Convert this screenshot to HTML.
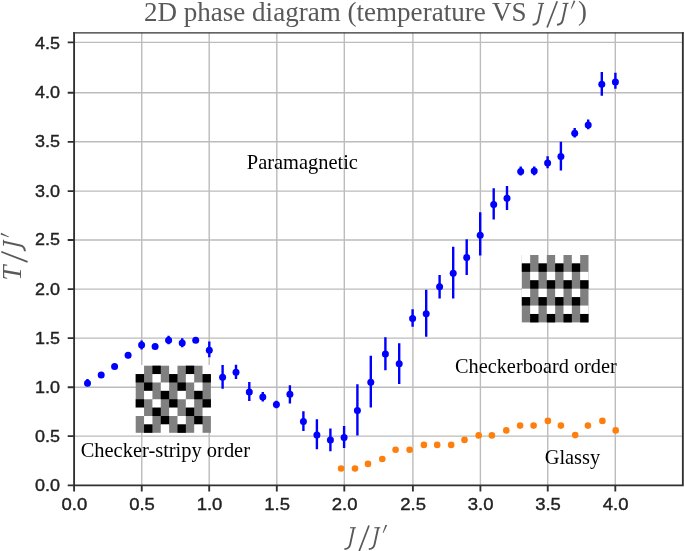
<!DOCTYPE html>
<html><head><meta charset="utf-8"><title>2D phase diagram</title>
<style>
html,body{margin:0;padding:0;background:#fff;}
body{width:685px;height:551px;overflow:hidden;font-family:"Liberation Sans",sans-serif;}
svg{display:block;}
.tk{font-family:"Liberation Sans",sans-serif;font-size:17.4px;fill:#222;stroke:#222;stroke-width:0.4px;}
.lb{font-family:"Liberation Serif",serif;font-size:20.2px;fill:#000;}
.tt{font-family:"Liberation Serif",serif;font-size:26.8px;fill:#595959;}
.it{font-style:italic;}
</style></head><body>
<svg width="685" height="551" viewBox="0 0 685 551">
<defs>
<filter id="gs" x="0" y="0" width="685" height="551" filterUnits="userSpaceOnUse" color-interpolation-filters="sRGB"><feColorMatrix type="saturate" values="0"/></filter>
<g id="mJ" fill="none" stroke="#595959" stroke-width="1.9"><path d="M5.9 0.5H11.8" stroke-width="1.1"/><path d="M9.7 0.3L6.0 17.4Q5.1 21.6 0.3 21.9"/></g>
<g id="mS"><path d="M0.5 -1.7L-9.6 24.6" fill="none" stroke="#595959" stroke-width="1.7"/></g>
<g id="mP"><path d="M17.0 -2.4L18.7 -1.9L14.9 5.8L14.2 5.6Z" fill="#595959"/></g>
</defs>
<rect width="685" height="551" fill="#fff"/>
<path d="M141.75 32.85 V485.4 M209.20 32.85 V485.4 M276.80 32.85 V485.4 M344.30 32.85 V485.4 M412.90 32.85 V485.4 M480.40 32.85 V485.4 M547.75 32.85 V485.4 M615.30 32.85 V485.4 M74.1 436.10 H682.85 M74.1 387.20 H682.85 M74.1 338.15 H682.85 M74.1 289.10 H682.85 M74.1 240.00 H682.85 M74.1 191.10 H682.85 M74.1 141.80 H682.85 M74.1 92.75 H682.85 M74.1 42.40 H682.85" stroke="#bcbcbc" stroke-width="1.4" fill="none"/>
<g><rect x="135.70" y="365.70" width="75.20" height="67.10" fill="#808080"/><rect x="135.00" y="365.00" width="9.06" height="9.09" fill="#ffffff"/><rect x="152.41" y="365.70" width="8.36" height="8.39" fill="#000000"/><rect x="169.12" y="365.00" width="8.36" height="9.09" fill="#ffffff"/><rect x="185.83" y="365.70" width="8.36" height="8.39" fill="#000000"/><rect x="202.54" y="365.00" width="9.06" height="9.09" fill="#ffffff"/><rect x="135.70" y="374.09" width="8.36" height="8.39" fill="#000000"/><rect x="152.41" y="374.09" width="8.36" height="8.39" fill="#ffffff"/><rect x="169.12" y="374.09" width="8.36" height="8.39" fill="#000000"/><rect x="185.83" y="374.09" width="8.36" height="8.39" fill="#ffffff"/><rect x="202.54" y="374.09" width="8.36" height="8.39" fill="#000000"/><rect x="144.06" y="382.48" width="8.36" height="8.39" fill="#000000"/><rect x="160.77" y="382.48" width="8.36" height="8.39" fill="#ffffff"/><rect x="177.48" y="382.48" width="8.36" height="8.39" fill="#000000"/><rect x="194.19" y="382.48" width="8.36" height="8.39" fill="#ffffff"/><rect x="144.06" y="390.86" width="8.36" height="8.39" fill="#ffffff"/><rect x="160.77" y="390.86" width="8.36" height="8.39" fill="#000000"/><rect x="177.48" y="390.86" width="8.36" height="8.39" fill="#ffffff"/><rect x="194.19" y="390.86" width="8.36" height="8.39" fill="#000000"/><rect x="135.70" y="399.25" width="8.36" height="8.39" fill="#000000"/><rect x="152.41" y="399.25" width="8.36" height="8.39" fill="#ffffff"/><rect x="169.12" y="399.25" width="8.36" height="8.39" fill="#000000"/><rect x="185.83" y="399.25" width="8.36" height="8.39" fill="#ffffff"/><rect x="202.54" y="399.25" width="8.36" height="8.39" fill="#000000"/><rect x="135.00" y="407.64" width="9.06" height="8.39" fill="#ffffff"/><rect x="152.41" y="407.64" width="8.36" height="8.39" fill="#000000"/><rect x="169.12" y="407.64" width="8.36" height="8.39" fill="#ffffff"/><rect x="185.83" y="407.64" width="8.36" height="8.39" fill="#000000"/><rect x="202.54" y="407.64" width="9.06" height="8.39" fill="#ffffff"/><rect x="144.06" y="416.02" width="8.36" height="8.39" fill="#ffffff"/><rect x="160.77" y="416.02" width="8.36" height="8.39" fill="#000000"/><rect x="177.48" y="416.02" width="8.36" height="8.39" fill="#ffffff"/><rect x="194.19" y="416.02" width="8.36" height="8.39" fill="#000000"/><rect x="144.06" y="424.41" width="8.36" height="8.39" fill="#000000"/><rect x="160.77" y="424.41" width="8.36" height="9.09" fill="#ffffff"/><rect x="177.48" y="424.41" width="8.36" height="8.39" fill="#000000"/><rect x="194.19" y="424.41" width="8.36" height="9.09" fill="#ffffff"/></g>
<g><rect x="521.80" y="255.00" width="66.70" height="67.40" fill="#808080"/><rect x="521.80" y="255.00" width="8.34" height="8.43" fill="#ffffff"/><rect x="538.47" y="255.00" width="8.34" height="8.43" fill="#ffffff"/><rect x="555.15" y="255.00" width="8.34" height="8.43" fill="#ffffff"/><rect x="571.83" y="255.00" width="8.34" height="8.43" fill="#ffffff"/><rect x="521.80" y="263.43" width="8.34" height="8.43" fill="#000000"/><rect x="538.47" y="263.43" width="8.34" height="8.43" fill="#000000"/><rect x="555.15" y="263.43" width="8.34" height="8.43" fill="#000000"/><rect x="571.83" y="263.43" width="8.34" height="8.43" fill="#000000"/><rect x="530.14" y="271.85" width="8.34" height="8.43" fill="#ffffff"/><rect x="546.81" y="271.85" width="8.34" height="8.43" fill="#ffffff"/><rect x="563.49" y="271.85" width="8.34" height="8.43" fill="#ffffff"/><rect x="580.16" y="271.85" width="8.34" height="8.43" fill="#ffffff"/><rect x="530.14" y="280.27" width="8.34" height="8.43" fill="#000000"/><rect x="546.81" y="280.27" width="8.34" height="8.43" fill="#000000"/><rect x="563.49" y="280.27" width="8.34" height="8.43" fill="#000000"/><rect x="580.16" y="280.27" width="8.34" height="8.43" fill="#000000"/><rect x="521.80" y="288.70" width="8.34" height="8.43" fill="#ffffff"/><rect x="538.47" y="288.70" width="8.34" height="8.43" fill="#ffffff"/><rect x="555.15" y="288.70" width="8.34" height="8.43" fill="#ffffff"/><rect x="571.83" y="288.70" width="8.34" height="8.43" fill="#ffffff"/><rect x="521.80" y="297.12" width="8.34" height="8.43" fill="#000000"/><rect x="538.47" y="297.12" width="8.34" height="8.43" fill="#000000"/><rect x="555.15" y="297.12" width="8.34" height="8.43" fill="#000000"/><rect x="571.83" y="297.12" width="8.34" height="8.43" fill="#000000"/><rect x="530.14" y="305.55" width="8.34" height="8.43" fill="#ffffff"/><rect x="546.81" y="305.55" width="8.34" height="8.43" fill="#ffffff"/><rect x="563.49" y="305.55" width="8.34" height="8.43" fill="#ffffff"/><rect x="580.16" y="305.55" width="8.34" height="8.43" fill="#ffffff"/><rect x="530.14" y="313.97" width="8.34" height="8.43" fill="#000000"/><rect x="546.81" y="313.97" width="8.34" height="8.43" fill="#000000"/><rect x="563.49" y="313.97" width="8.34" height="8.43" fill="#000000"/><rect x="580.16" y="313.97" width="8.34" height="8.43" fill="#000000"/></g>
<path d="M87.5 379.0 V386.3 M128.1 352.3 V358.3 M141.6 340.6 V349.6 M168.6 335.8 V344.3 M182.2 338.3 V347.3 M209.3 341.6 V357.3 M222.6 365.1 V388.8 M236.0 364.8 V379.1 M249.3 382.1 V401.1 M262.8 392.1 V401.6 M276.4 400.8 V408.3 M289.9 385.3 V403.6 M303.4 411.2 V430.9 M316.9 419.2 V449.2 M330.4 428.4 V451.2 M344.1 426.1 V448.0 M357.4 384.3 V435.4 M370.8 355.8 V407.4 M385.4 337.3 V370.3 M399.2 343.3 V384.1 M412.6 309.2 V326.7 M426.2 289.7 V336.8 M439.6 274.9 V298.4 M453.2 246.8 V298.4 M466.7 239.3 V274.9 M480.2 212.3 V255.4 M493.7 188.2 V219.6 M507.0 185.9 V209.9 M520.7 166.5 V175.5 M534.2 166.5 V175.3 M547.6 156.3 V168.3 M560.9 141.7 V170.5 M574.7 127.9 V137.4 M588.2 119.6 V129.2 M601.8 71.9 V95.7 M615.4 72.7 V88.7" stroke="#0000ff" stroke-width="2.4" fill="none"/>
<g fill="#0000ff"><circle cx="87.5" cy="383.3" r="3.5"/><circle cx="101.2" cy="374.9" r="3.5"/><circle cx="114.6" cy="366.4" r="3.5"/><circle cx="128.1" cy="355.3" r="3.5"/><circle cx="141.6" cy="345.1" r="3.5"/><circle cx="155.1" cy="346.6" r="3.5"/><circle cx="168.6" cy="340.3" r="3.5"/><circle cx="182.2" cy="343.1" r="3.5"/><circle cx="195.7" cy="340.3" r="3.5"/><circle cx="209.3" cy="350.3" r="3.5"/><circle cx="222.6" cy="377.3" r="3.5"/><circle cx="236.0" cy="372.3" r="3.5"/><circle cx="249.3" cy="392.1" r="3.5"/><circle cx="262.8" cy="397.1" r="3.5"/><circle cx="276.4" cy="404.6" r="3.5"/><circle cx="289.9" cy="394.3" r="3.5"/><circle cx="303.4" cy="421.4" r="3.5"/><circle cx="316.9" cy="434.9" r="3.5"/><circle cx="330.4" cy="439.9" r="3.5"/><circle cx="344.1" cy="437.4" r="3.5"/><circle cx="357.4" cy="410.4" r="3.5"/><circle cx="370.8" cy="382.3" r="3.5"/><circle cx="385.4" cy="354.1" r="3.5"/><circle cx="399.2" cy="363.8" r="3.5"/><circle cx="412.6" cy="318.5" r="3.5"/><circle cx="426.2" cy="313.7" r="3.5"/><circle cx="439.6" cy="286.7" r="3.5"/><circle cx="453.2" cy="273.2" r="3.5"/><circle cx="466.7" cy="257.4" r="3.5"/><circle cx="480.2" cy="235.3" r="3.5"/><circle cx="493.7" cy="204.5" r="3.5"/><circle cx="507.0" cy="198.3" r="3.5"/><circle cx="520.7" cy="171.5" r="3.5"/><circle cx="534.2" cy="171.1" r="3.5"/><circle cx="547.6" cy="162.9" r="3.5"/><circle cx="560.9" cy="156.4" r="3.5"/><circle cx="574.7" cy="133.2" r="3.5"/><circle cx="588.2" cy="124.9" r="3.5"/><circle cx="601.8" cy="84.3" r="3.5"/><circle cx="615.4" cy="81.9" r="3.5"/></g>
<g fill="#ff7f0e"><circle cx="341.1" cy="468.5" r="3.3"/><circle cx="355.0" cy="468.5" r="3.3"/><circle cx="368.0" cy="463.9" r="3.3"/><circle cx="382.3" cy="459.0" r="3.3"/><circle cx="395.6" cy="449.7" r="3.3"/><circle cx="409.6" cy="449.7" r="3.3"/><circle cx="423.9" cy="444.9" r="3.3"/><circle cx="437.2" cy="444.9" r="3.3"/><circle cx="451.2" cy="444.9" r="3.3"/><circle cx="464.5" cy="439.9" r="3.3"/><circle cx="478.7" cy="435.4" r="3.3"/><circle cx="491.9" cy="435.4" r="3.3"/><circle cx="506.3" cy="430.4" r="3.3"/><circle cx="520.1" cy="425.6" r="3.3"/><circle cx="533.6" cy="425.6" r="3.3"/><circle cx="547.9" cy="420.9" r="3.3"/><circle cx="560.9" cy="425.6" r="3.3"/><circle cx="575.2" cy="435.1" r="3.3"/><circle cx="587.9" cy="425.6" r="3.3"/><circle cx="602.4" cy="420.9" r="3.3"/><circle cx="615.7" cy="430.4" r="3.3"/></g>
<path d="M74.1 485.4V32.15M682.85 32.15V485.4M73.17999999999999 485.4H683.77" fill="none" stroke="#303030" stroke-width="1.85"/>
<path d="M73.17999999999999 32.85H683.77" fill="none" stroke="#303030" stroke-width="1.45"/>
<path d="M74.10 485.4 v6.0 M141.75 485.4 v6.0 M209.20 485.4 v6.0 M276.80 485.4 v6.0 M344.30 485.4 v6.0 M412.90 485.4 v6.0 M480.40 485.4 v6.0 M547.75 485.4 v6.0 M615.30 485.4 v6.0 M74.1 485.40 h-6.4 M74.1 436.10 h-6.4 M74.1 387.20 h-6.4 M74.1 338.15 h-6.4 M74.1 289.10 h-6.4 M74.1 240.00 h-6.4 M74.1 191.10 h-6.4 M74.1 141.80 h-6.4 M74.1 92.75 h-6.4 M74.1 42.40 h-6.4" stroke="#303030" stroke-width="1.85" fill="none"/>
<g filter="url(#gs)">
<text class="tk" x="74.40" y="510" text-anchor="middle" textLength="25.7" lengthAdjust="spacingAndGlyphs">0.0</text>
<text class="tk" x="142.05" y="510" text-anchor="middle" textLength="25.7" lengthAdjust="spacingAndGlyphs">0.5</text>
<text class="tk" x="209.50" y="510" text-anchor="middle" textLength="25.7" lengthAdjust="spacingAndGlyphs">1.0</text>
<text class="tk" x="277.10" y="510" text-anchor="middle" textLength="25.7" lengthAdjust="spacingAndGlyphs">1.5</text>
<text class="tk" x="344.60" y="510" text-anchor="middle" textLength="25.7" lengthAdjust="spacingAndGlyphs">2.0</text>
<text class="tk" x="413.20" y="510" text-anchor="middle" textLength="25.7" lengthAdjust="spacingAndGlyphs">2.5</text>
<text class="tk" x="480.70" y="510" text-anchor="middle" textLength="25.7" lengthAdjust="spacingAndGlyphs">3.0</text>
<text class="tk" x="548.05" y="510" text-anchor="middle" textLength="25.7" lengthAdjust="spacingAndGlyphs">3.5</text>
<text class="tk" x="615.60" y="510" text-anchor="middle" textLength="25.7" lengthAdjust="spacingAndGlyphs">4.0</text>
<text class="tk" x="60.1" y="491" text-anchor="end" textLength="25.0" lengthAdjust="spacingAndGlyphs">0.0</text>
<text class="tk" x="60.1" y="442" text-anchor="end" textLength="25.0" lengthAdjust="spacingAndGlyphs">0.5</text>
<text class="tk" x="60.1" y="393" text-anchor="end" textLength="25.0" lengthAdjust="spacingAndGlyphs">1.0</text>
<text class="tk" x="60.1" y="344" text-anchor="end" textLength="25.0" lengthAdjust="spacingAndGlyphs">1.5</text>
<text class="tk" x="60.1" y="295" text-anchor="end" textLength="25.0" lengthAdjust="spacingAndGlyphs">2.0</text>
<text class="tk" x="60.1" y="245" text-anchor="end" textLength="25.0" lengthAdjust="spacingAndGlyphs">2.5</text>
<text class="tk" x="60.1" y="197" text-anchor="end" textLength="25.0" lengthAdjust="spacingAndGlyphs">3.0</text>
<text class="tk" x="60.1" y="147" text-anchor="end" textLength="25.0" lengthAdjust="spacingAndGlyphs">3.5</text>
<text class="tk" x="60.1" y="98" text-anchor="end" textLength="25.0" lengthAdjust="spacingAndGlyphs">4.0</text>
<text class="tk" x="60.1" y="49" text-anchor="end" textLength="25.0" lengthAdjust="spacingAndGlyphs">4.5</text>
<text class="lb" x="246.8" y="168.5" textLength="111.1" lengthAdjust="spacingAndGlyphs">Paramagnetic</text>
<text class="lb" x="455" y="372.6" textLength="161.8" lengthAdjust="spacingAndGlyphs">Checkerboard order</text>
<text class="lb" x="80.7" y="456.9" textLength="169.3" lengthAdjust="spacingAndGlyphs">Checker-stripy order</text>
<text class="lb" x="544.7" y="463.85" textLength="55.5" lengthAdjust="spacingAndGlyphs">Glassy</text>
<text class="tt" x="143.9" y="21" textLength="382.7" lengthAdjust="spacingAndGlyphs">2D phase diagram (temperature VS</text>
<text class="tt" x="578.1" y="20">)</text>
</g>
<g transform="translate(532.3 2.9)"><use href="#mJ"/><g transform="translate(24.4 0)"><use href="#mS"/><use href="#mJ"/><use href="#mP"/></g></g>
<g transform="translate(344.1 527.25)"><use href="#mJ"/><g transform="translate(24.4 0)"><use href="#mS"/><use href="#mJ"/><use href="#mP"/></g></g>
<g filter="url(#gs)"><g transform="translate(3.0 251.5) rotate(-90)"><use href="#mS" x="-0.8"/><use href="#mJ"/><use href="#mP"/><text class="tt it" x="-29.0" y="17.5">T</text></g></g>
</svg></body></html>
